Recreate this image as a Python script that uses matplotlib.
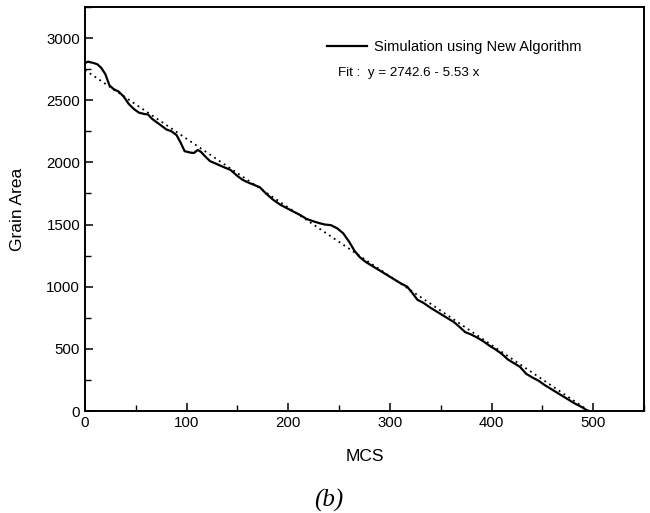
import numpy as np
import matplotlib.pyplot as plt
from matplotlib.ticker import MultipleLocator

# simulation curve
mcs = [0, 3, 8, 12, 16, 20, 24, 28, 33, 38, 43, 48, 53, 58, 62, 66, 71, 76, 80,
       85, 90, 94, 98, 103, 107, 111, 114, 118, 123, 130, 137, 143, 150, 155,
       160, 166, 172, 178, 185, 192, 199, 206, 212, 218, 225, 231, 236, 242,
       248, 254, 260, 265, 270, 276, 282, 290, 297, 304, 310, 317, 322, 327,
       333, 340, 346, 352, 358, 363, 368, 374, 380, 386, 392, 398, 403, 410,
       416, 422, 428, 434, 440, 446, 452, 458, 464, 470, 476, 482, 488, 494]
area = [2800, 2810, 2800, 2790, 2760, 2710, 2620, 2590, 2570, 2530, 2470, 2430,
        2400, 2390, 2385, 2350, 2320, 2290, 2265, 2250, 2220, 2160, 2090, 2080,
        2075, 2100, 2085, 2050, 2010, 1985, 1960, 1940, 1890, 1860, 1840, 1820,
        1800, 1750, 1700, 1660, 1630, 1600, 1575, 1545, 1525, 1510, 1500, 1495,
        1470, 1430, 1360, 1290, 1240, 1200, 1170, 1130, 1095, 1060, 1030, 1000,
        950, 895, 870, 830, 800, 770, 740, 715, 680, 635, 615, 590, 560, 525,
        500, 460, 415, 385, 355, 300, 270, 245, 210, 180, 150, 120, 90, 60, 35, 5]

fit_a = 2742.6
fit_b = 5.53
fit_x = [0, 496]

plt.rcParams['font.family'] = ['Liberation Sans', 'DejaVu Sans']

fig = plt.figure(figsize=(6.5, 5.13), dpi=100)
ax = fig.add_axes([0.1308, 0.1988, 0.86, 0.7876])

fx = np.array(fit_x)
ax.plot(fx, fit_a - fit_b * fx, color='black', lw=1.3, linestyle=(0, (1, 2.2)))
ax.plot(mcs, area, color='black', lw=1.6, label='Simulation using New Algorithm')

ax.set_xlim(0, 550)
ax.set_ylim(0, 3250)
ax.set_xticks([0, 100, 200, 300, 400, 500])
ax.xaxis.set_minor_locator(MultipleLocator(50))
ax.set_yticks([0, 500, 1000, 1500, 2000, 2500, 3000])
ax.yaxis.set_minor_locator(MultipleLocator(250))
ax.tick_params(which='both', direction='in', labelsize=10.8)
ax.tick_params(which='major', length=6, width=1.1)
ax.tick_params(which='minor', length=4, width=1.0)
for s in ax.spines.values():
    s.set_linewidth(1.4)

ax.set_xlabel('MCS', fontsize=12.5, labelpad=14)
ax.set_ylabel('Grain Area', fontsize=12.5, labelpad=15)

ax.legend(loc='center left', bbox_to_anchor=(0.433, 0.901), frameon=False,
          fontsize=10.5, handlelength=2.75, handletextpad=0.47,
          borderpad=0, borderaxespad=0)
ax.text(0.4526, 0.837, 'Fit :  y = 2742.6 - 5.53 x', transform=ax.transAxes,
        fontsize=9.6, va='center', ha='left')

fig.text(0.506, 0.024, '(b)', fontsize=18, style='italic',
         family=['Liberation Serif', 'DejaVu Serif'], ha='center', va='center')

fig.savefig('out.png', dpi=100)
